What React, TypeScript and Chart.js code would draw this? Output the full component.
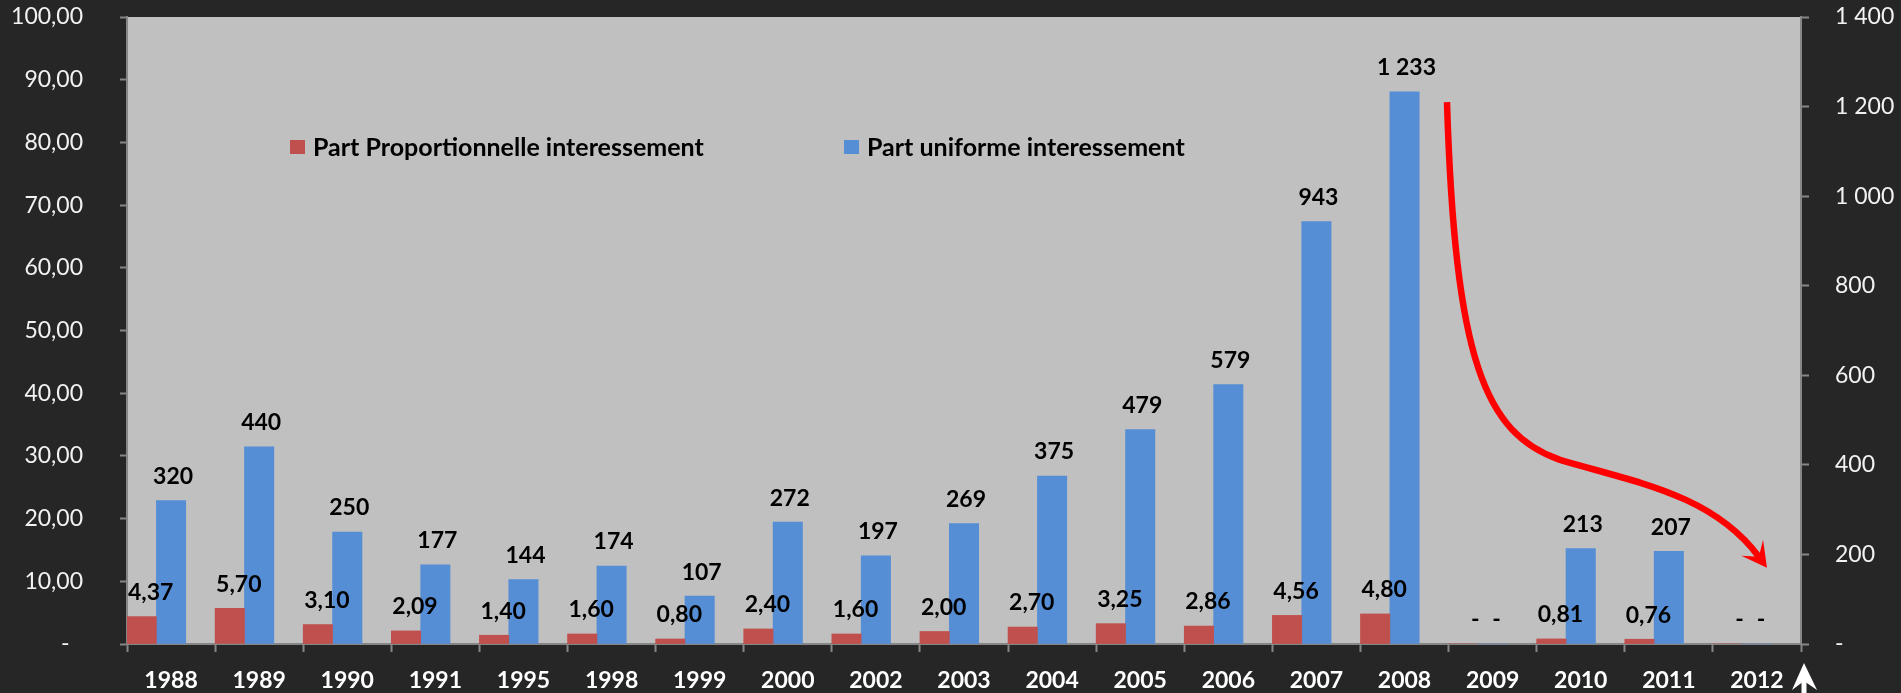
import React, { useEffect, useRef } from "react";
import { Chart, registerables } from "chart.js";

Chart.register(...registerables);

const years = ["1988", "1989", "1990", "1991", "1995", "1998", "1999", "2000", "2002", "2003", "2004", "2005", "2006", "2007", "2008", "2009", "2010", "2011", "2012"];
const partProportionnelle = [4.37, 5.7, 3.1, 2.09, 1.4, 1.6, 0.8, 2.4, 1.6, 2.0, 2.7, 3.25, 2.86, 4.56, 4.8, 0, 0.81, 0.76, 0];
const partUniforme = [320, 440, 250, 177, 144, 174, 107, 272, 197, 269, 375, 479, 579, 943, 1233, 0, 213, 207, 0];
const spacer = [0, 0, 0, 0, 0, 0, 0, 0, 0, 0, 0, 0, 0, 0, 0, 0, 0, 0, 0];
const seriesLabels = ["Part Proportionnelle interessement", "Part uniforme interessement"];
const leftAxis = { min: 0, max: 100, step: 10 };
const rightAxis = { min: 0, max: 1400, step: 200 };

// Red annotation arrow, in (category index, right-axis value) units
const arrowStart = [14.482, 1210];
const arrowC1 = [14.573, 634];
const arrowC2 = [14.908, 470];
const arrowMid = [15.765, 411];
const arrowC3 = [16.559, 364];
const arrowC4 = [17.49, 337];
const arrowTip = [18.114, 170];

const RED = "#c0504d";
const BLUE = "#558ed5";
const AXIS = "#868686";
const FONT = "Lato, 'Open Sans', sans-serif";

const fmtLeft = (v: number) => (v === 0 ? "-" : v.toFixed(2).replace(".", ","));
const fmtRight = (v: number) => (v === 0 ? "-" : String(Math.round(v)).replace(/\B(?=(\d{3})+(?!\d))/g, " "));

const decorPlugin = {
  id: "decor",
  beforeDraw(chart: any) {
    const { ctx, chartArea: a } = chart;
    ctx.save();
    ctx.fillStyle = "#c0c0c0";
    ctx.fillRect(a.left, a.top, a.right - a.left, a.bottom - a.top);
    ctx.restore();
  },
  afterDatasetsDraw(chart: any) {
    const { ctx, chartArea: a, scales } = chart;
    ctx.save();
    // data labels
    ctx.font = `bold 23px ${FONT}`;
    ctx.fillStyle = "#000";
    ctx.textAlign = "center";
    ctx.textBaseline = "middle";
    [0, 1].forEach((d) => {
      const meta = chart.getDatasetMeta(d);
      const values = chart.data.datasets[d].data as number[];
      meta.data.forEach((bar: any, i: number) => {
        const v = values[i];
        const txt = d === 0 ? fmtLeft(v) : fmtRight(v);
        const dx = d === 0 ? (v === 0 ? 12 : 9) : v === 0 ? 4 : 2;
        ctx.fillText(txt, bar.x + dx, bar.y - 24);
      });
    });

    // legend
    ctx.font = `bold 25px ${FONT}`;
    ctx.textAlign = "left";
    const ly = a.top + 131;
    const items = [
      { x: a.left + 163, color: chart.data.datasets[0].backgroundColor, label: chart.data.datasets[0].label },
      { x: a.left + 717, color: chart.data.datasets[1].backgroundColor, label: chart.data.datasets[1].label },
    ];
    items.forEach((it) => {
      ctx.fillStyle = it.color;
      ctx.fillRect(it.x, ly - 8, 15, 14);
      ctx.fillStyle = "#000";
      ctx.fillText(it.label, it.x + 23, ly);
    });

    // red arrow
    const xs = scales.x;
    const ys = scales.y1;
    const P = (p: number[]) => [xs.getPixelForValue(p[0]), ys.getPixelForValue(p[1])];
    const s = P(arrowStart), c1 = P(arrowC1), c2 = P(arrowC2), m = P(arrowMid), c3 = P(arrowC3), c4 = P(arrowC4), t = P(arrowTip);
    let dx = t[0] - c4[0], dy = t[1] - c4[1];
    const len = Math.hypot(dx, dy);
    dx /= len; dy /= len;
    const headLen = 25, halfW = 13.5;
    const notch = [t[0] - dx * headLen * 0.55, t[1] - dy * headLen * 0.55];
    ctx.strokeStyle = "#ff0000";
    ctx.lineWidth = 6.5;
    ctx.lineCap = "butt";
    ctx.lineJoin = "round";
    ctx.beginPath();
    ctx.moveTo(s[0], s[1]);
    ctx.bezierCurveTo(c1[0], c1[1], c2[0], c2[1], m[0], m[1]);
    ctx.bezierCurveTo(c3[0], c3[1], c4[0], c4[1], notch[0], notch[1]);
    ctx.stroke();
    const bx = t[0] - dx * headLen, by = t[1] - dy * headLen;
    ctx.fillStyle = "#ff0000";
    ctx.beginPath();
    ctx.moveTo(t[0], t[1]);
    ctx.lineTo(bx - dy * halfW, by + dx * halfW);
    ctx.lineTo(notch[0], notch[1]);
    ctx.lineTo(bx + dy * halfW, by - dx * halfW);
    ctx.closePath();
    ctx.fill();

    // small white arrow under right axis corner
    const wx = a.right + 3, wy = a.bottom + 19;
    ctx.fillStyle = "#ffffff";
    ctx.fillRect(wx - 2.5, wy + 12, 5, 40);
    ctx.beginPath();
    ctx.moveTo(wx, wy);
    ctx.lineTo(wx - 12, wy + 27);
    ctx.lineTo(wx, wy + 18);
    ctx.lineTo(wx + 13, wy + 27);
    ctx.closePath();
    ctx.fill();
    ctx.restore();
  },
};

export default function App() {
  const ref = useRef<HTMLCanvasElement>(null);
  useEffect(() => {
    if (!ref.current) return;
    Chart.defaults.font.family = FONT;
    const fitY = (w: number) => (s: any) => {
      s.width = w;
      s.paddingTop = 0;
      s.paddingBottom = 0;
    };
    const chart = new Chart(ref.current, {
      type: "bar",
      data: {
        labels: years,
        datasets: [
          { label: seriesLabels[0], data: partProportionnelle, backgroundColor: RED, yAxisID: "y", categoryPercentage: 1, barPercentage: 1 },
          { label: seriesLabels[1], data: partUniforme, backgroundColor: BLUE, yAxisID: "y1", categoryPercentage: 1, barPercentage: 1 },
          { label: "", data: spacer, backgroundColor: "rgba(0,0,0,0)", yAxisID: "y", categoryPercentage: 1, barPercentage: 1 },
        ],
      },
      options: {
        animation: false,
        responsive: true,
        maintainAspectRatio: false,
        layout: { padding: { top: 17, left: 0, right: 0, bottom: 0 } },
        plugins: { legend: { display: false }, tooltip: { enabled: false } },
        scales: {
          x: {
            grid: { display: true, drawOnChartArea: false, drawTicks: true, tickLength: 8, tickColor: AXIS, tickWidth: 2, offset: true },
            border: { display: true, color: AXIS, width: 2 },
            ticks: { color: "#ffffff", font: { size: 23, weight: "bold" }, padding: 15, maxRotation: 0, autoSkip: false },
            afterFit: (s: any) => { s.height = 49; s.paddingLeft = 0; s.paddingRight = 0; },
          },
          y: {
            position: "left",
            min: leftAxis.min,
            max: leftAxis.max,
            grid: { display: true, drawOnChartArea: false, drawTicks: true, tickLength: 7, tickColor: AXIS, tickWidth: 2 },
            border: { display: true, color: AXIS, width: 2 },
            ticks: {
              stepSize: leftAxis.step,
              color: "#f2f2f2",
              font: { size: 23 },
              padding: 37,
              callback: (v: any) => (Number(v) === 0 ? "-\u2007" : fmtLeft(Number(v))),
            },
            afterFit: fitY(127),
          },
          y1: {
            position: "right",
            min: rightAxis.min,
            max: rightAxis.max,
            grid: { display: true, drawOnChartArea: false, drawTicks: true, tickLength: 8, tickColor: AXIS, tickWidth: 2 },
            border: { display: true, color: AXIS, width: 2 },
            ticks: {
              stepSize: rightAxis.step,
              color: "#f2f2f2",
              font: { size: 23 },
              padding: 26,
              callback: (v: any) => fmtRight(Number(v)),
            },
            afterFit: fitY(100),
          },
        },
      },
      plugins: [decorPlugin],
    });
    return () => chart.destroy();
  }, []);
  return (
    <div style={{ position: "fixed", left: 0, top: 0, width: 1901, height: 693, background: "#262626" }}>
      <canvas ref={ref} />
    </div>
  );
}
